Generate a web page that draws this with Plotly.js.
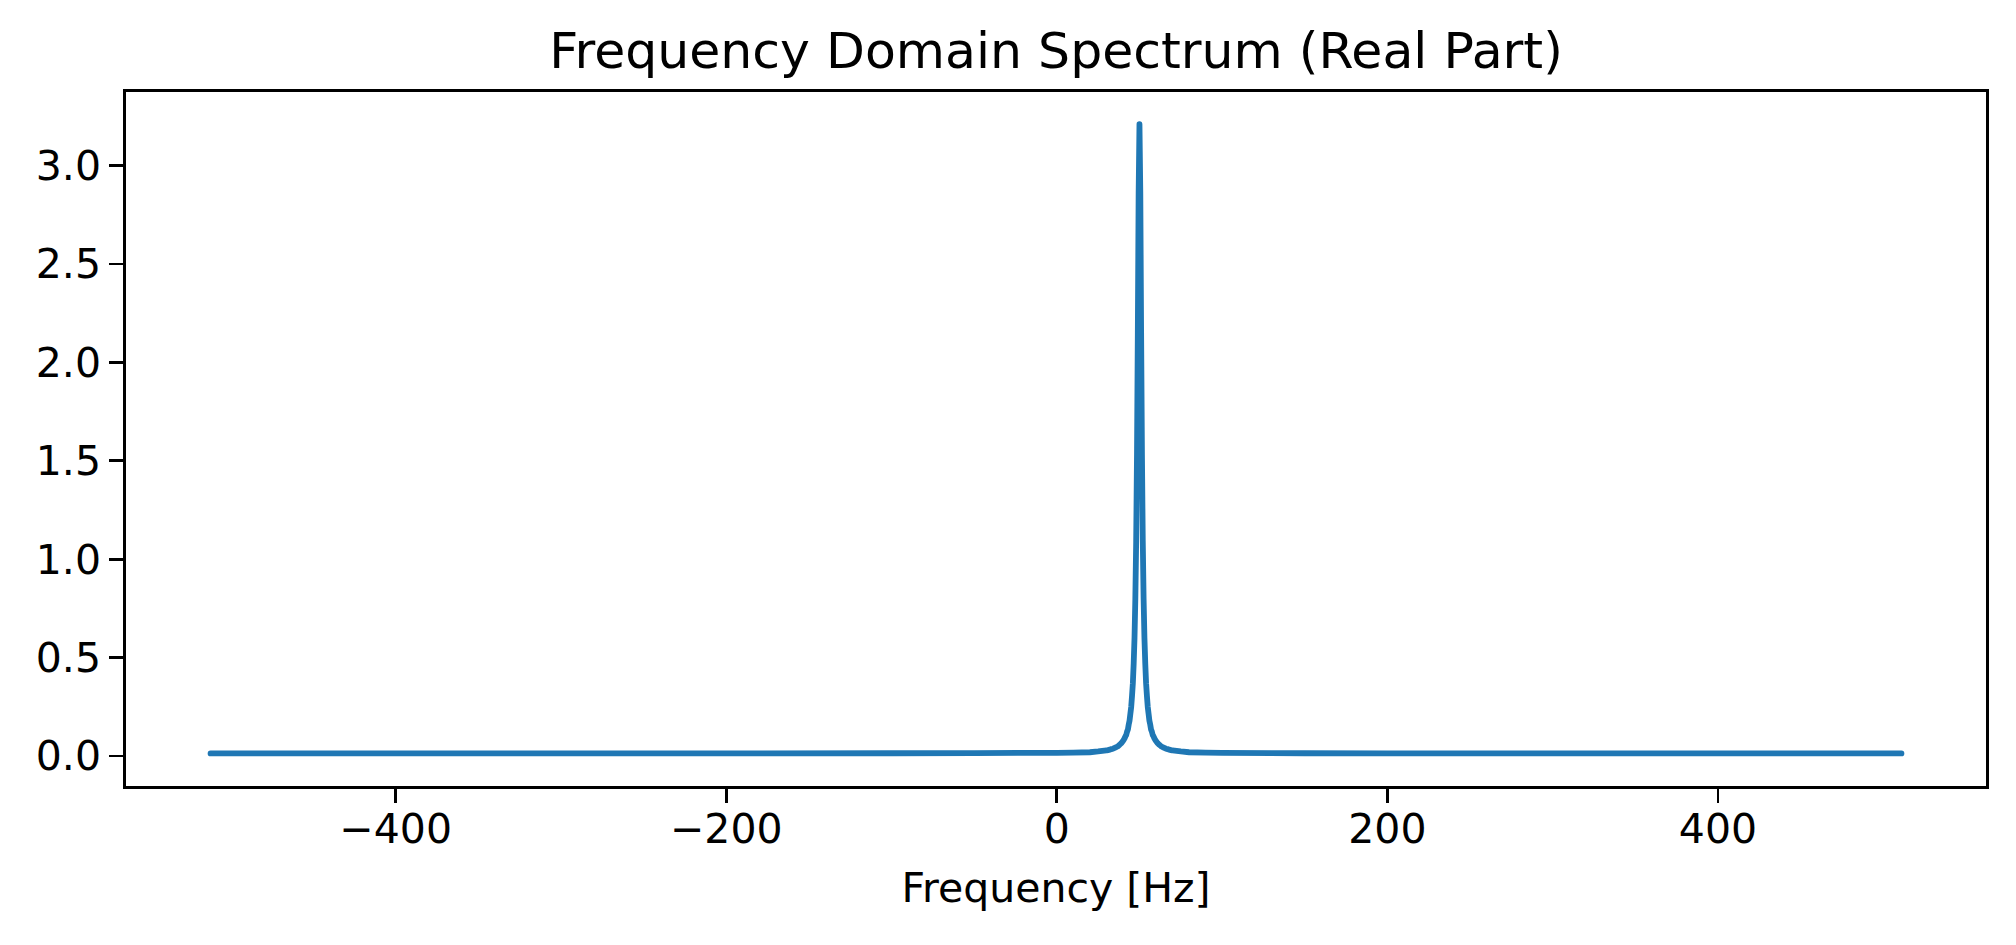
<!DOCTYPE html>
<html>
<head>
<meta charset="utf-8">
<script src="https://cdn.plot.ly/plotly-3.0.1.min.js"></script>
<style>
html,body{margin:0;padding:0;background:#fff;}
#chart{width:2016px;height:945px;}
#chart .js-line{stroke-linecap:round !important;stroke-linejoin:round !important;}
</style>
</head>
<body>
<div id="chart"></div>
<script>
// Frequency bins (Hz)
const freqHz = [-512, -400, -300, -200, -100, -50, 0, 10, 20, 25,
  30, 31, 32, 33, 34, 35, 36, 37, 38, 39,
  40, 40.5, 41, 41.5, 42, 42.5, 43, 43.5, 44, 44.5, 45, 45.5, 46, 46.5, 47, 47.5, 48, 48.5, 49, 49.5,
  50, 50.5, 51, 51.5, 52, 52.5, 53, 53.5, 54, 54.5, 55, 55.5, 56, 56.5, 57, 57.5, 58, 58.5, 59, 59.5, 60,
  61, 62, 63, 64, 65, 66, 67, 68, 69, 70,
  75, 80, 90, 100, 150, 200, 300, 400, 511];
// Real part of the spectrum
const realPart = [0.013, 0.013, 0.013, 0.013, 0.014, 0.015, 0.016, 0.017, 0.019, 0.023,
  0.028, 0.030, 0.032, 0.035, 0.037, 0.041, 0.045, 0.050, 0.057, 0.065,
  0.076, 0.083, 0.090, 0.100, 0.107, 0.124, 0.135, 0.160, 0.180, 0.215, 0.250, 0.306, 0.370, 0.470, 0.600, 0.800, 1.090, 1.530, 2.150, 2.860,
  3.210, 2.860, 2.150, 1.530, 1.090, 0.800, 0.600, 0.470, 0.370, 0.306, 0.250, 0.215, 0.180, 0.160, 0.135, 0.124, 0.107, 0.100, 0.090, 0.083, 0.076,
  0.065, 0.057, 0.050, 0.045, 0.041, 0.037, 0.035, 0.032, 0.030, 0.028,
  0.023, 0.019, 0.017, 0.016, 0.014, 0.013, 0.013, 0.013, 0.013];

const xTickVals = [-400, -200, 0, 200, 400];
const xTickText = ['\u2212400', '\u2212200', '0', '200', '400'];
const yTickVals = [0, 0.5, 1.0, 1.5, 2.0, 2.5, 3.0];
const yTickText = ['0.0', '0.5', '1.0', '1.5', '2.0', '2.5', '3.0'];

const titleText = 'Frequency Domain Spectrum (Real Part)';
const xLabel = 'Frequency [Hz]';

const FONT = 'DejaVu Sans, sans-serif';

const trace = {
  x: freqHz,
  y: realPart,
  type: 'scatter',
  mode: 'lines',
  line: {color: '#1f77b4', width: 5.8, shape: 'linear', simplify: false},
  hoverinfo: 'skip'
};

const axisCommon = {
  showline: true,
  mirror: true,
  linecolor: '#000',
  linewidth: 2.8,
  ticks: 'outside',
  ticklen: 14,
  tickwidth: 2.8,
  tickcolor: '#000',
  showgrid: false,
  zeroline: false,
  tickfont: {family: FONT, size: 41, color: '#000'}
};

const layout = {
  width: 2016,
  height: 945,
  paper_bgcolor: '#fff',
  plot_bgcolor: '#fff',
  margin: {l: 126, r: 30, t: 92, b: 159, pad: 0},
  showlegend: false,
  font: {family: FONT, color: '#000'},
  title: {
    text: titleText,
    font: {family: FONT, size: 50.5, color: '#000'},
    x: 0.5, xref: 'paper', xanchor: 'center',
    y: 1 - 50 / 945, yref: 'container', yanchor: 'middle'
  },
  xaxis: Object.assign({}, axisCommon, {
    range: [-563.15, 562.15],
    tickmode: 'array',
    tickvals: xTickVals,
    ticktext: xTickText,
    ticklabelstandoff: -9,
    title: {text: xLabel, font: {family: FONT, size: 41, color: '#000'}, standoff: 22}
  }),
  yaxis: Object.assign({}, axisCommon, {
    range: [-0.1525, 3.374],
    tickmode: 'array',
    tickvals: yTickVals,
    ticktext: yTickText
  })
};

Plotly.newPlot('chart', [trace], layout, {staticPlot: true, displayModeBar: false});
</script>
</body>
</html>
